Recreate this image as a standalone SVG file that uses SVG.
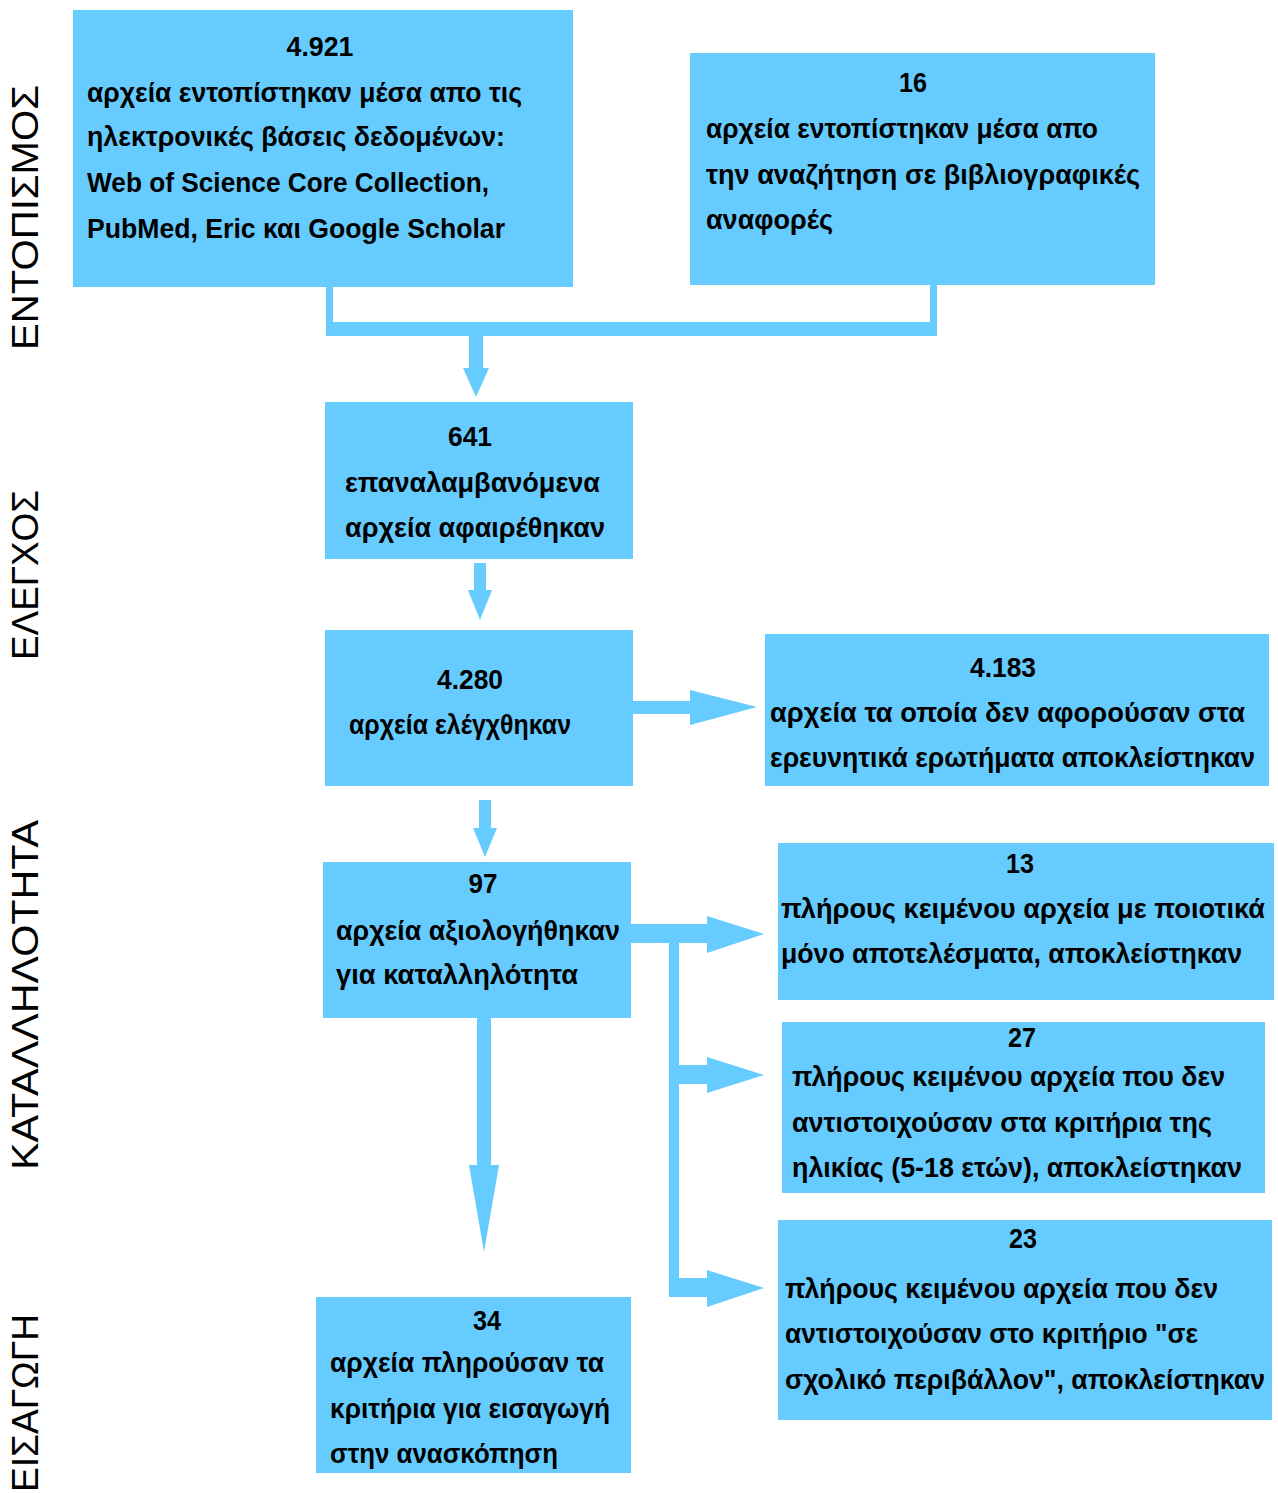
<svg xmlns="http://www.w3.org/2000/svg" width="1278" height="1493" viewBox="0 0 1278 1493">
<style>
.box{fill:#66CCFF}
.c{fill:#66CCFF}
.t{font-family:"Liberation Sans",Arial,sans-serif;font-weight:bold;font-size:27px;fill:#000}
.n{text-anchor:middle}
.side{font-family:"Liberation Sans",Arial,sans-serif;font-size:36px;fill:#000}
</style>
<rect width="1278" height="1493" fill="#fff"/>
<g id="labels">
<text class="side" transform="translate(38,350) rotate(-90)" textLength="265" lengthAdjust="spacingAndGlyphs">ΕΝΤΟΠΙΣΜΟΣ</text>
<text class="side" transform="translate(38,660) rotate(-90)" textLength="170" lengthAdjust="spacingAndGlyphs">ΕΛΕΓΧΟΣ</text>
<text class="side" transform="translate(38,1170) rotate(-90)" textLength="350" lengthAdjust="spacingAndGlyphs">ΚΑΤΑΛΛΗΛΟΤΗΤΑ</text>
<text class="side" transform="translate(38,1492) rotate(-90)" textLength="178" lengthAdjust="spacingAndGlyphs">ΕΙΣΑΓΩΓΗ</text>
</g>
<g id="connectors">
<polygon class="c" points="326,287 333,287 333,322 930,322 930,285 937,285 937,336 483,336 483,368 489,368 476,397 463,368 469,368 469,336 326,336"/>
<polygon class="c" points="474,563 486,563 486,590 492,590 480,620 468,590 474,590"/>
<polygon class="c" points="479,800 491,800 491,828 497,828 485,857 473,828 479,828"/>
<polygon class="c" points="633,701 690,701 690,690 757,707 690,725 690,714 633,714"/>
<polygon class="c" points="631,924 707,924 707,916 764,934 707,953 707,943 679,943 679,1065 707,1065 707,1057 764,1075 707,1093 707,1084 679,1084 679,1278 707,1278 707,1270 764,1288 707,1307 707,1297 669,1297 669,943 631,943"/>
<polygon class="c" points="477,1018 491,1018 491,1165 499,1165 484,1252 469,1165 477,1165"/>
</g>
<g id="n1">
<rect class="box" x="73" y="10" width="500" height="277"/>
<text class="t n" x="320" y="56" textLength="67" lengthAdjust="spacingAndGlyphs">4.921</text>
<text class="t" x="87" y="102" textLength="435" lengthAdjust="spacingAndGlyphs">αρχεία εντοπίστηκαν μέσα απο τις</text>
<text class="t" x="87" y="146" textLength="418" lengthAdjust="spacingAndGlyphs">ηλεκτρονικές βάσεις δεδομένων:</text>
<text class="t" x="87" y="192" textLength="402" lengthAdjust="spacingAndGlyphs">Web of Science Core Collection,</text>
<text class="t" x="87" y="238" textLength="418" lengthAdjust="spacingAndGlyphs">PubMed, Eric και Google Scholar</text>
</g>
<g id="n2">
<rect class="box" x="690" y="53" width="465" height="232"/>
<text class="t n" x="913" y="92" textLength="28" lengthAdjust="spacingAndGlyphs">16</text>
<text class="t" x="706" y="138" textLength="392" lengthAdjust="spacingAndGlyphs">αρχεία εντοπίστηκαν μέσα απο</text>
<text class="t" x="706" y="184" textLength="434" lengthAdjust="spacingAndGlyphs">την αναζήτηση σε βιβλιογραφικές</text>
<text class="t" x="706" y="229" textLength="127" lengthAdjust="spacingAndGlyphs">αναφορές</text>
</g>
<g id="n3">
<rect class="box" x="325" y="402" width="308" height="157"/>
<text class="t n" x="470" y="446" textLength="44" lengthAdjust="spacingAndGlyphs">641</text>
<text class="t" x="345" y="492" textLength="255" lengthAdjust="spacingAndGlyphs">επαναλαμβανόμενα</text>
<text class="t" x="345" y="537" textLength="260" lengthAdjust="spacingAndGlyphs">αρχεία αφαιρέθηκαν</text>
</g>
<g id="n4">
<rect class="box" x="325" y="630" width="308" height="156"/>
<text class="t n" x="470" y="689" textLength="66" lengthAdjust="spacingAndGlyphs">4.280</text>
<text class="t" x="349" y="734" textLength="222" lengthAdjust="spacingAndGlyphs">αρχεία ελέγχθηκαν</text>
</g>
<g id="n5">
<rect class="box" x="765" y="634" width="504" height="152"/>
<text class="t n" x="1003" y="677" textLength="66" lengthAdjust="spacingAndGlyphs">4.183</text>
<text class="t" x="770" y="722" textLength="475" lengthAdjust="spacingAndGlyphs">αρχεία  τα οποία δεν αφορούσαν στα</text>
<text class="t" x="770" y="767" textLength="485" lengthAdjust="spacingAndGlyphs">ερευνητικά ερωτήματα αποκλείστηκαν</text>
</g>
<g id="n6">
<rect class="box" x="323" y="862" width="308" height="156"/>
<text class="t n" x="483" y="893" textLength="29" lengthAdjust="spacingAndGlyphs">97</text>
<text class="t" x="336" y="940" textLength="284" lengthAdjust="spacingAndGlyphs">αρχεία αξιολογήθηκαν</text>
<text class="t" x="336" y="984" textLength="242" lengthAdjust="spacingAndGlyphs">για καταλληλότητα</text>
</g>
<g id="n7">
<rect class="box" x="778" y="843" width="496" height="157"/>
<text class="t n" x="1020" y="873" textLength="28" lengthAdjust="spacingAndGlyphs">13</text>
<text class="t" x="781" y="918" textLength="484" lengthAdjust="spacingAndGlyphs">πλήρους κειμένου αρχεία με ποιοτικά</text>
<text class="t" x="781" y="963" textLength="461" lengthAdjust="spacingAndGlyphs">μόνο αποτελέσματα, αποκλείστηκαν</text>
</g>
<g id="n8">
<rect class="box" x="782" y="1022" width="483" height="171"/>
<text class="t n" x="1022" y="1047" textLength="28" lengthAdjust="spacingAndGlyphs">27</text>
<text class="t" x="792" y="1086" textLength="433" lengthAdjust="spacingAndGlyphs">πλήρους κειμένου αρχεία που δεν</text>
<text class="t" x="792" y="1132" textLength="420" lengthAdjust="spacingAndGlyphs">αντιστοιχούσαν  στα κριτήρια της</text>
<text class="t" x="792" y="1177" textLength="450" lengthAdjust="spacingAndGlyphs">ηλικίας (5-18 ετών), αποκλείστηκαν</text>
</g>
<g id="n9">
<rect class="box" x="778" y="1220" width="494" height="200"/>
<text class="t n" x="1023" y="1248" textLength="28" lengthAdjust="spacingAndGlyphs">23</text>
<text class="t" x="785" y="1298" textLength="433" lengthAdjust="spacingAndGlyphs">πλήρους κειμένου αρχεία που δεν</text>
<text class="t" x="785" y="1343" textLength="413" lengthAdjust="spacingAndGlyphs">αντιστοιχούσαν  στο κριτήριο "σε</text>
<text class="t" x="785" y="1389" textLength="480" lengthAdjust="spacingAndGlyphs">σχολικό περιβάλλον", αποκλείστηκαν</text>
</g>
<g id="n10">
<rect class="box" x="316" y="1297" width="315" height="176"/>
<text class="t n" x="487" y="1330" textLength="28" lengthAdjust="spacingAndGlyphs">34</text>
<text class="t" x="330" y="1372" textLength="274" lengthAdjust="spacingAndGlyphs">αρχεία πληρούσαν τα</text>
<text class="t" x="330" y="1418" textLength="280" lengthAdjust="spacingAndGlyphs">κριτήρια για εισαγωγή</text>
<text class="t" x="330" y="1463" textLength="228" lengthAdjust="spacingAndGlyphs">στην ανασκόπηση</text>
</g>
</svg>
